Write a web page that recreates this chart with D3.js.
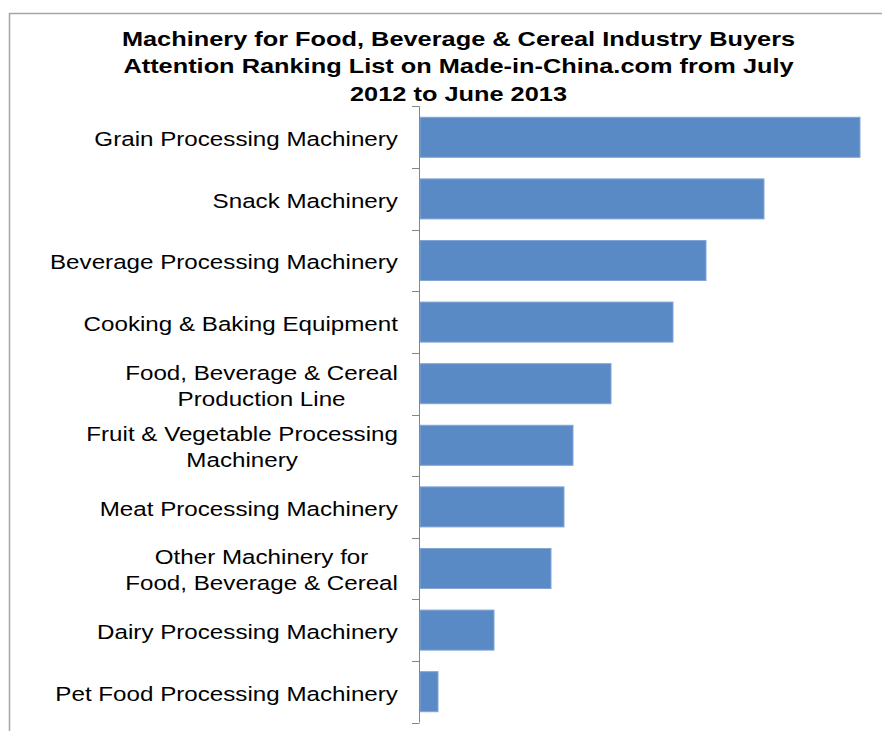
<!DOCTYPE html>
<html>
  <head>
    <meta charset="utf-8">
    <title>Machinery attention ranking</title>
    <script src="https://d3js.org/d3.v7.min.js"></script>
    <style>
      body {
        margin: 0;
        background: #fff;
        font-family: "Liberation Sans", Arial, sans-serif;
      }
      .frame { stroke: #a6a6a6; stroke-width: 1.5px; fill: none; }
      .axis-line { stroke: #868686; stroke-width: 1px; }
      .bar { fill: #5a8ac6; stroke: #83a6d4; stroke-width: 1px; }
      .label { font-size: 19.5px; fill: #000; }
      .title { font-size: 19.5px; font-weight: bold; fill: #000; }
    </style>
  </head>
  <body>
    <div id="chart"></div>
    <script>
      // categories top to bottom, multi-line labels split by "\n"
      const categories = [
        "Grain Processing Machinery",
        "Snack Machinery",
        "Beverage Processing Machinery",
        "Cooking & Baking Equipment",
        "Food, Beverage & Cereal\nProduction Line",
        "Fruit & Vegetable Processing\nMachinery",
        "Meat Processing Machinery",
        "Other Machinery for\nFood, Beverage & Cereal",
        "Dairy Processing Machinery",
        "Pet Food Processing Machinery"
      ];
      // attention index (no axis scale in the original)
      const values = [440, 344, 286, 253, 191, 153, 144, 131, 74, 18];
      const titleLines = [
        "Machinery for Food, Beverage & Cereal Industry Buyers",
        "Attention Ranking List on Made-in-China.com from July",
        "2012 to June 2013"
      ];

      const width = 882, height = 731;
      const plot = { left: 420, right: 860, top: 106.5, bottom: 722.5 };
      const sx = 1.24; // the original text is rendered horizontally stretched

      const svg = d3.select("#chart").append("svg")
        .attr("width", width)
        .attr("height", height);

      // outer chart frame (only top and left edges are visible)
      svg.append("path")
        .attr("class", "frame")
        .attr("d", `M9.5,${height}V13.5H${width}`);

      const x = d3.scaleLinear()
        .domain([0, d3.max(values)])
        .range([plot.left, plot.right]);

      const y = d3.scaleBand()
        .domain(categories)
        .range([plot.top, plot.bottom])
        .paddingInner(0.35)
        .paddingOuter(0.175);

      // bars
      svg.selectAll(".bar")
        .data(categories)
        .join("rect")
          .attr("class", "bar")
          .attr("x", x(0))
          .attr("y", d => y(d))
          .attr("width", (d, i) => x(values[i]) - x(0))
          .attr("height", y.bandwidth());

      // category axis: vertical line with ticks between categories
      const tickYs = categories.map(d => y(d) - y.step() * 0.175).concat([plot.bottom]);
      svg.append("line")
        .attr("class", "axis-line")
        .attr("x1", plot.left - 0.5).attr("x2", plot.left - 0.5)
        .attr("y1", plot.top).attr("y2", plot.bottom);
      svg.selectAll(".tick")
        .data(tickYs)
        .join("line")
          .attr("class", "axis-line")
          .attr("x1", plot.left - 8).attr("x2", plot.left - 0.5)
          .attr("y1", d => Math.round(d) + 0.5)
          .attr("y2", d => Math.round(d) + 0.5);

      // category labels: block right-aligned, lines centred on each other
      const labelRight = 398;
      const lineH = 26;
      categories.forEach(cat => {
        const lines = cat.split("\n");
        const cy = y(cat) + y.bandwidth() / 2;
        const g = svg.append("g");
        const texts = lines.map((ln, i) => g.append("text")
          .attr("class", "label")
          .attr("text-anchor", "middle")
          .attr("y", cy + 9 + (i - (lines.length - 1) / 2) * lineH)
          .text(ln));
        const maxW = d3.max(texts, t => t.node().getComputedTextLength());
        g.attr("transform", `translate(${labelRight - maxW * sx / 2},0) scale(${sx},1)`);
      });

      // title
      const tg = svg.append("g")
        .attr("transform", `translate(458.5,0) scale(1.3,1)`);
      tg.selectAll(".title")
        .data(titleLines)
        .join("text")
          .attr("class", "title")
          .attr("text-anchor", "middle")
          .attr("y", (d, i) => 46 + i * 27.5)
          .text(d => d);
    </script>
  </body>
</html>
